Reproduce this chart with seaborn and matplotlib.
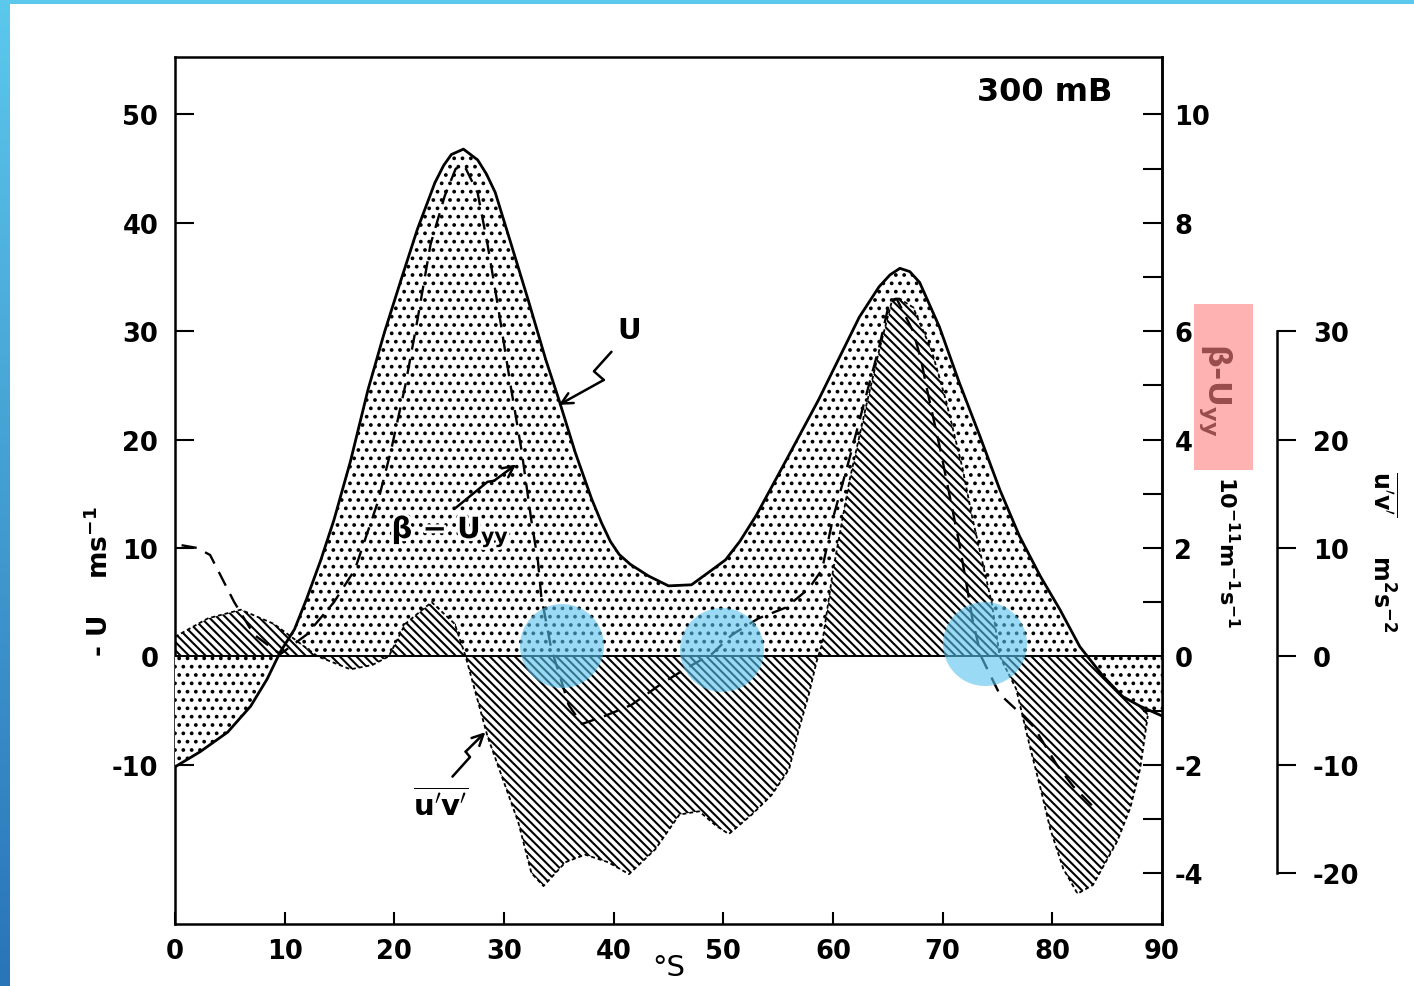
import numpy as np
import pandas as pd
import matplotlib
matplotlib.use("Agg")
import matplotlib.pyplot as plt
import seaborn as sns
from matplotlib.patches import Rectangle, Ellipse
from matplotlib.ticker import FixedLocator
from matplotlib.colors import LinearSegmentedColormap
import matplotlib.patheffects as pe

# ---------------- data ----------------
lat_u = [0, 2.3, 4.8, 6.9, 8.4, 9.6, 10.9, 12, 13.3, 14.5, 16, 17.6, 19.1, 20.6, 22.1,
         23.7, 24.5, 25.2, 26.3, 27.6, 28.4, 29.2, 30.6, 32.2, 33.8, 35, 36.5, 38,
         38.9, 39.7, 40.5, 41.5, 43.2, 45, 47.1, 49, 50.2, 51.5, 53, 54.5, 56, 56.9,
         58.7, 60.5, 62.4, 64.2, 65.2, 66.1, 67, 67.9, 69.7, 71.5, 73.4, 75.2, 77,
         78.9, 80.7, 82.5, 84.6, 86.4, 88, 90]
u_wind = [-10.2, -8.8, -7.0, -4.6, -2.1, 0.4, 2.5, 5.3, 8.9, 12.6, 18.0, 24.6, 29.9,
          34.7, 39.4, 43.7, 45.3, 46.3, 46.8, 45.8, 44.5, 42.8, 38.2, 32.9, 27.4, 23.7,
          18.8, 14.5, 12.3, 10.6, 9.4, 8.5, 7.4, 6.5, 6.6, 8.0, 8.9, 10.6, 13.0, 15.8,
          18.6, 20.3, 23.7, 27.4, 31.3, 34.1, 35.2, 35.8, 35.5, 34.5, 30.4, 25.3,
          20.3, 15.4, 11.1, 7.4, 4.3, 0.9, -1.8, -3.7, -4.6, -5.5]

lat_beta = [0.6, 2.0, 3.2, 5.4, 7.2, 9.6, 12, 14.5, 16.4, 18.5, 19.7, 21, 22.1, 23.3,
            24.6, 25.6, 26.4, 27.6, 28.5, 29.5, 30.6, 31.6, 32.5, 33.1, 33.4, 34.3, 35,
            35.9, 37.1, 39.2, 41.6, 44.4, 46.8, 49, 50.8, 53.2, 55.7, 57.8, 59, 60,
            61.5, 63, 64.2, 65.1, 65.8, 67.3, 68, 68.6, 69.8, 70.6, 71.5, 72.2, 72.7,
            73.5, 75.2, 76.8, 78.3, 80.4, 81.9, 83.6]
beta_uyy = [2.05, 2.0, 1.87, 1.0, 0.4, 0.04, 0.4, 1.0, 1.6, 2.85, 3.8, 5.0, 6.2, 7.6,
            8.5, 9.0, 9.05, 8.55, 7.6, 6.4, 5.0, 3.8, 2.5, 1.75, 1.1, 0.15, -0.3,
            -0.9, -1.25, -1.1, -0.9, -0.5, -0.2, 0.05, 0.4, 0.7, 0.9, 1.25, 1.6, 2.55,
            3.65, 4.8, 5.7, 6.5, 6.6, 6.0, 5.5, 4.9, 3.8, 3.0, 2.1, 1.3, 0.7,
            0.0, -0.7, -1.0, -1.3, -2.0, -2.4, -2.75]

lat_uv = [0, 3, 6, 9, 11, 13, 16, 18, 19.5, 21, 23.4, 25.5, 26.5, 28.5, 31.3, 32.5,
          33.6, 35.6, 37.4, 39.5, 41.4, 43.8, 46, 47.8, 49.3, 50.5, 52.6, 54.4, 56,
          56.9, 57.8, 58.5, 59, 60, 61.5, 63, 64.2, 65.4, 65.9, 67.3, 69, 70.3, 71.8,
          72.7, 73.6, 74.5, 75.2, 76.7, 77.9, 79, 79.8, 81, 82.3, 83.7, 85.9, 87.1,
          88, 88.7]
uv_flux = [1.8, 3.5, 4.3, 3.0, 1.5, 0, -1.2, -0.8, 0, 3.0, 5.0, 3.0, 0, -7.4, -15.3,
           -20, -21.2, -19, -18.3, -19, -20.1, -17.8, -14.6, -14.3, -15.6, -16.4,
           -14.6, -12.8, -10.4, -6.7, -3.5, -0.5, 1.1, 7.9, 16.2, 23, 28.2, 32.9, 33.1,
           32.2, 28.2, 23.6, 17.4, 12.8, 8.8, 4.8, 0, -3, -8.1, -12.5, -15.9, -19.6,
           -21.9, -21.1, -17.1, -14, -10.4, -5.5]

x_ticks = [0, 10, 20, 30, 40, 50, 60, 70, 80, 90]
u_ticks = [-10, 0, 10, 20, 30, 40, 50]
beta_ticks = [-4, -2, 0, 2, 4, 6, 8, 10]
beta_minor = [-3, -1, 1, 3, 5, 7, 9]
uv_ticks = [-20, -10, 0, 10, 20, 30]

# ---------------- style ----------------
sns.set_theme(style="ticks")
plt.rcParams.update({
    "font.family": ["DejaVu Sans"],
    "font.weight": "bold",
    "axes.unicode_minus": False,
    "hatch.linewidth": 1.5,
    "mathtext.fontset": "dejavusans",
    "axes.linewidth": 1.8,
    "axes.edgecolor": "black",
    "text.color": "black",
    "axes.labelcolor": "black",
    "xtick.color": "black",
    "ytick.color": "black",
})

W, H = 1414, 987
fig = plt.figure(figsize=(W / 100, H / 100), dpi=100)
fig.patch.set_facecolor("white")
ax = fig.add_axes([175 / W, 1 - 925 / H, 987 / W, 867 / H])
ax.set_facecolor("white")
axb = ax.twinx()
axc = ax.twinx()

U_LIM = (-24.7, 55.3)
ax.set_xlim(0, 90)
ax.set_ylim(*U_LIM)
axb.set_ylim(U_LIM[0] / 5, U_LIM[1] / 5)
axc.set_ylim(*U_LIM)

U = np.array(u_wind)
LU = np.array(lat_u)

# stipple of U (positive part), below the hatching
ax.fill_between(LU, U, 0, where=U >= 0, interpolate=True, facecolor="none",
                edgecolor="black", hatch="..", linewidth=0, zorder=1)
# hatched u'v'
ax.fill_between(lat_uv, uv_flux, 0, transform=axc.transData, facecolor="white",
                edgecolor="black", hatch="\\\\\\\\", linewidth=0, zorder=2)
# stipple of U (negative part), above the hatching
ax.fill_between(LU, U, 0, where=U <= 0, interpolate=True, facecolor="white",
                edgecolor="black", hatch="..", linewidth=0, zorder=3)

# lines
sns.lineplot(x=lat_uv, y=uv_flux, ax=ax, color="black", lw=1.3, estimator=None,
             sort=False, linestyle=(0, (2.2, 1.6)), transform=axc.transData, zorder=4)
sns.lineplot(x=lat_beta, y=beta_uyy, ax=ax, color="black", lw=1.7, estimator=None,
             sort=False, linestyle=(0, (6.5, 4)), transform=axb.transData, zorder=5)
sns.lineplot(x=lat_u, y=u_wind, ax=ax, color="black", lw=2.0, estimator=None,
             sort=False, zorder=6)
ax.axhline(0, color="black", lw=1.4, zorder=6)

# ---------------- axes / ticks ----------------
TS = 18.5
ax.set_xticks(x_ticks)
ax.set_xticklabels([str(t) for t in x_ticks])
ax.tick_params(axis="x", direction="in", length=9, width=1.5, pad=10, labelsize=TS,
               top=False, colors="black")
ax.set_yticks(u_ticks)
ax.set_yticklabels([str(t) for t in u_ticks])
ax.tick_params(axis="y", direction="in", length=14, width=1.5, pad=12, labelsize=TS,
               right=False, colors="black")
ax.set_xlabel("°S", fontsize=21, labelpad=-8, color="black")
ax.set_ylabel("")

axb.set_yticks(beta_ticks)
axb.set_yticklabels([str(t) for t in beta_ticks])
axb.yaxis.set_minor_locator(FixedLocator(beta_minor))
axb.tick_params(axis="y", which="both", direction="in", length=14, width=1.5, pad=9,
                labelsize=TS, colors="black")
for s in ["top", "left", "bottom"]:
    axb.spines[s].set_visible(False)

axc.spines["right"].set_position(("axes", (1277 - 175) / 987))
axc.spines["right"].set_bounds(-20, 30)
for s in ["top", "left", "bottom"]:
    axc.spines[s].set_visible(False)
axc.set_yticks(uv_ticks)
axc.set_yticklabels([str(t) for t in uv_ticks])
axc.tick_params(axis="y", direction="out", length=14, width=1.5, pad=12, labelsize=TS,
                colors="black")

# ---------------- annotations ----------------
stroke = [pe.withStroke(linewidth=4, foreground="white")]
ax.text(0.881, 0.96, "300 mB", transform=ax.transAxes, fontsize=23, ha="center",
        va="center", color="black")

arrow_kw = dict(arrowstyle="->", lw=1.8, color="black", mutation_scale=20,
                shrinkA=0, shrinkB=0)

ax.text(41.4, 30.1, "U", fontsize=21, ha="center", va="center", zorder=8)
ax.plot([39.8, 38.2, 39.1], [28.1, 26.3, 25.5], color="black", lw=1.8, zorder=8)
ax.annotate("", xy=(35.0, 23.2), xytext=(39.1, 25.5), arrowprops=arrow_kw, zorder=8)

ax.text(25.1, 11.5, r"β − U$_{\mathbf{yy}}$", fontsize=21, ha="center",
        va="center", zorder=8, path_effects=stroke)
ax.plot([25.6, 28.5, 29.1], [13.7, 16.1, 16.2], color="black", lw=1.8, zorder=8)
ax.annotate("", xy=(31.1, 17.7), xytext=(29.1, 16.2), arrowprops=arrow_kw, zorder=8)

ax.text(24.2, -13.6, r"$\overline{\mathbf{u}'\mathbf{v}'}$", fontsize=21,
        ha="center", va="center", zorder=8)
ax.plot([25.3, 26.9, 26.5], [-11.1, -9.3, -8.8], color="black", lw=1.8, zorder=8)
ax.annotate("", xy=(28.3, -7.0), xytext=(26.5, -8.8), arrowprops=arrow_kw, zorder=8)

# axis titles
fig.text(100 / W, 1 - 582 / H, r"- U    ms$^{-1}$", rotation=90, fontsize=19,
         ha="center", va="center")
fig.text(1227 / W, 1 - 552 / H, r"10$^{-11}$m$^{-1}$s$^{-1}$", rotation=270,
         fontsize=16, ha="center", va="center")
fig.text(1215 / W, 1 - 390 / H, r"β-U$_{\mathbf{yy}}$", rotation=270, fontsize=23,
         ha="center", va="center", zorder=3)
fig.add_artist(Rectangle((1194 / W, 1 - 471 / H), 59 / W, 166 / H,
                         transform=fig.transFigure, facecolor=(1, 0.5, 0.5),
                         alpha=0.6, edgecolor="none", zorder=4))
fig.text(1382 / W, 1 - 552 / H, r"$\overline{\mathbf{u}'\mathbf{v}'}$     m$^2$s$^{-2}$",
         rotation=270, fontsize=17, ha="center", va="center")

# highlight circles
for cx, cy in [(562, 647), (722, 651), (985, 645)]:
    fig.add_artist(Ellipse((cx / W, 1 - cy / H), 84 / W, 84 / H,
                           transform=fig.transFigure, facecolor=(0.35, 0.76, 0.93),
                           alpha=0.6, edgecolor="none", zorder=10))

# slide border strips
bax = fig.add_axes([0, 0, 10 / W, 1])
bax.axis("off")
cmap = LinearSegmentedColormap.from_list("edge", ["#5cc8ec", "#2a74b8"])
bax.imshow(np.linspace(0, 1, 256)[:, None], aspect="auto", cmap=cmap,
           extent=[0, 1, 0, 1], origin="upper")
fig.add_artist(Rectangle((0, 1 - 5 / H), 1, 5 / H, transform=fig.transFigure,
                         facecolor="#5cc8ec", edgecolor="none", zorder=11))

fig.savefig("out.png", dpi=100, facecolor="white")
